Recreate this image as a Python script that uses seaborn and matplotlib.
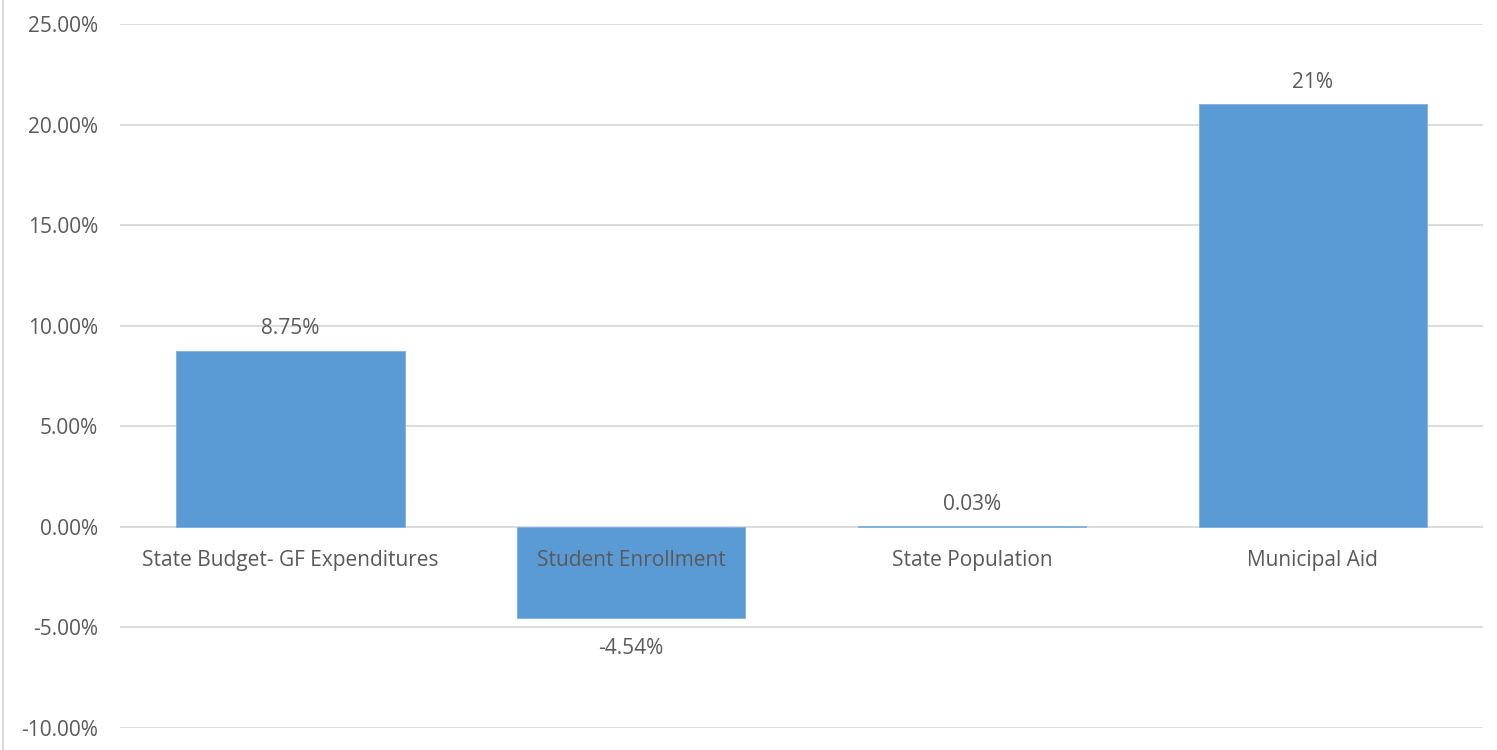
import matplotlib
matplotlib.use("Agg")
import matplotlib.pyplot as plt
import seaborn as sns
import pandas as pd
from matplotlib.lines import Line2D
from matplotlib.ticker import FuncFormatter

# chart data
categories = ["State Budget- GF Expenditures", "Student Enrollment", "State Population", "Municipal Aid"]
values = [8.75, -4.54, 0.03, 21.0]
value_labels = ["8.75%", "-4.54%", "0.03%", "21%"]
y_ticks = [-10, -5, 0, 5, 10, 15, 20, 25]

df = pd.DataFrame({"category": categories, "value": values})

sns.set_theme(style="white")
plt.rcParams['font.family'] = ['Open Sans', 'DejaVu Sans']

text_color = "#595959"
grid_color = "#D9D9D9"
bar_color = "#5B9BD5"
fs = 15

fig = plt.figure(figsize=(14.97, 7.5), dpi=100)
ax = fig.add_axes([0.0802, 0.0293, 0.9105, 0.9387])

sns.barplot(data=df, x="category", y="value", color=bar_color, saturation=1,
            width=0.67, edgecolor="#7FB1E0", linewidth=0.6, ax=ax)

ax.set_ylim(-10, 25)
ax.set_yticks(y_ticks)
ax.yaxis.set_major_formatter(FuncFormatter(lambda v, p: f"{v:.2f}%"))

# gridlines drawn behind the bars, tick labels stay on top of them
ax.grid(False)
ax.set_axisbelow(False)
for t in y_ticks:
    ax.axhline(t, color=grid_color, linewidth=1.3, zorder=0.5)

for side in ["top", "right", "left"]:
    ax.spines[side].set_visible(False)
ax.spines["bottom"].set_position(("data", 0))
ax.spines["bottom"].set_visible(False)

ax.tick_params(axis="y", length=0, pad=16, labelsize=fs, labelcolor=text_color)
ax.tick_params(axis="x", length=0, pad=17, labelsize=fs, labelcolor=text_color)
ax.set_xlabel("")
ax.set_ylabel("")

for i, (v, lab) in enumerate(zip(values, value_labels)):
    off = 16 if v >= 0 else -22
    ax.annotate(lab, (i, v), xytext=(0, off), textcoords="offset points",
                ha="center", va="center", fontsize=fs, color=text_color)

fig.add_artist(Line2D([0.0017, 0.0017], [0, 1], transform=fig.transFigure,
                      color=grid_color, linewidth=1.5))

fig.savefig("out.png", dpi=100)
